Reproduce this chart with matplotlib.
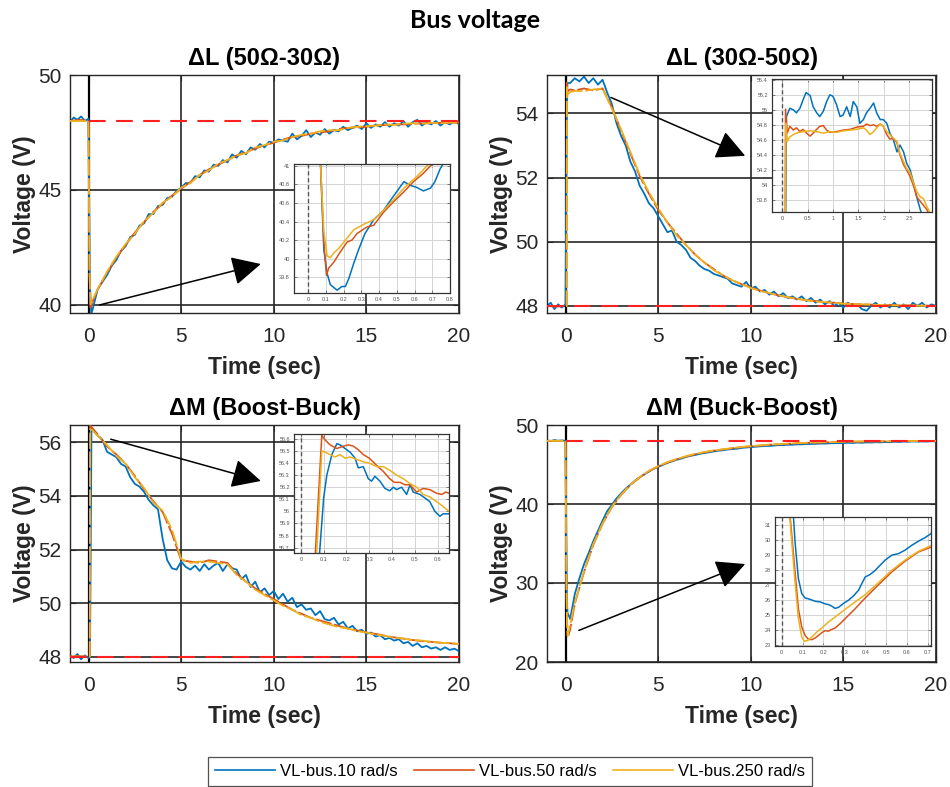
import numpy as np
import matplotlib
matplotlib.use("Agg")
import matplotlib.pyplot as plt
from matplotlib.lines import Line2D
from matplotlib.ticker import FuncFormatter

plt.rcParams['font.family'] = ['Liberation Sans', 'DejaVu Sans']

BLUE = '#0072BD'
ORANGE = '#D95319'
YELLOW = '#EDB120'
COLORS = [BLUE, ORANGE, YELLOW]

TITLES = ['ΔL (50Ω-30Ω)', 'ΔL (30Ω-50Ω)', 'ΔM (Boost-Buck)', 'ΔM (Buck-Boost)']
LABELS = ['VL-bus.10 rad/s', 'VL-bus.50 rad/s', 'VL-bus.250 rad/s']
V_REF = 48.0
DT_BLUE = 0.25     # sample step of the typed blue values after the transient
DT_SMOOTH = 0.5    # sample step of the typed orange / yellow values

# ---------------- panel 1 : dL 50-30 ----------------
p1_blue_t0 = [-1.0, -0.8, -0.6, -0.4, -0.2, 0.0, 0.07, 0.15]
p1_blue_v0 = [47.95, 48.15, 48.05, 48.2, 48.0, 48.1, 41.0, 39.6]
p1_blue = [39.9, 40.7, 41.0, 41.3, 41.7, 41.95, 42.35, 42.55, 42.95, 43.05,
           43.45, 43.55, 43.95, 43.95, 44.3, 44.35, 44.65, 44.7, 44.95, 45.1,
           45.3, 45.3, 45.6, 45.55, 45.85, 45.8, 46.1, 46.05, 46.3, 46.2,
           46.55, 46.4, 46.7, 46.55, 46.85, 46.75, 47.0, 46.85, 47.1, 47.05,
           47.2, 47.15, 47.1, 47.45, 47.2, 47.35, 47.6, 47.3, 47.5, 47.4,
           47.65, 47.45, 47.6, 47.55, 47.75, 47.6, 47.7, 47.8, 47.65, 47.9,
           47.7, 47.85, 47.75, 47.95, 47.75, 47.9, 47.8, 48.0, 47.75, 47.95,
           48.05, 47.8, 47.95, 47.85, 48.0, 47.8, 47.95, 47.85, 48.0, 47.85]
p1_orange_t0 = [-1.0, -0.5, 0.0, 0.05, 0.1, 0.2, 0.3]
p1_orange_v0 = [48.0, 48.05, 48.0, 41.5, 39.82, 40.1, 40.3]
p1_orange = [40.67, 41.4, 42.05, 42.6, 43.15, 43.6, 44.05, 44.4, 44.75, 45.05,
             45.35, 45.65, 45.9, 46.1, 46.3, 46.5, 46.65, 46.8, 46.95, 47.05,
             47.2, 47.3, 47.35, 47.45, 47.5, 47.55, 47.65, 47.7, 47.72, 47.75,
             47.8, 47.82, 47.85, 47.85, 47.88, 47.9, 47.9, 47.92, 47.92, 47.93]
p1_yellow_t0 = [-1.0, -0.5, 0.0, 0.05, 0.11, 0.2, 0.3]
p1_yellow_v0 = [48.0, 48.0, 48.0, 41.5, 40.02, 40.17, 40.36]
p1_yellow = [40.7, 41.45, 42.1, 42.65, 43.1, 43.65, 44.0, 44.45, 44.7, 45.1,
             45.3, 45.65, 45.85, 46.15, 46.3, 46.5, 46.6, 46.85, 46.95, 47.1,
             47.15, 47.3, 47.4, 47.45, 47.55, 47.6, 47.6, 47.7, 47.75, 47.78,
             47.8, 47.85, 47.83, 47.88, 47.9, 47.88, 47.92, 47.9, 47.93, 47.92]

# inset 1
i1_blue_t = [0.055, 0.07, 0.088, 0.107, 0.125, 0.163, 0.19, 0.21, 0.23, 0.257, 0.285, 0.32,
             0.37, 0.425, 0.48, 0.54, 0.575, 0.61, 0.65, 0.69, 0.715, 0.745, 0.77]
i1_blue_v = [41.5, 41.0, 40.1, 39.84, 39.72, 39.66, 39.7, 39.7, 39.79, 39.95, 40.1, 40.27,
             40.42, 40.52, 40.67, 40.83, 40.79, 40.77, 40.73, 40.76, 40.83, 40.97, 41.05]
i1_orange_t = [0.05, 0.07, 0.088, 0.103, 0.116, 0.144, 0.18, 0.22, 0.247, 0.275, 0.33,
               0.37, 0.425, 0.48, 0.54, 0.594, 0.65, 0.69, 0.72]
i1_orange_v = [41.5, 41.0, 40.2, 39.82, 39.9, 39.96, 40.07, 40.18, 40.2, 40.27, 40.34,
               40.36, 40.5, 40.61, 40.72, 40.83, 40.92, 41.0, 41.05]
i1_yellow_t = [0.05, 0.07, 0.088, 0.107, 0.125, 0.144, 0.172, 0.21, 0.257, 0.313, 0.37,
               0.425, 0.48, 0.54, 0.61, 0.67, 0.7]
i1_yellow_v = [41.5, 41.0, 40.3, 40.03, 40.01, 40.06, 40.11, 40.2, 40.31, 40.37, 40.42,
               40.52, 40.63, 40.76, 40.88, 41.0, 41.05]

# ---------------- panel 2 : dL 30-50 ----------------
p2_blue_t0 = [-1.0, -0.8, -0.6, -0.4, -0.2, 0.0, 0.07, 0.1]
p2_blue_v0 = [48.0, 48.1, 47.9, 48.05, 47.95, 48.05, 53.6, 54.95]
p2_blue = [54.95, 55.1, 55.0, 55.15, 54.95, 55.1, 54.9, 55.05, 54.65, 54.3,
           53.7, 53.3, 53.0, 52.5, 52.2, 51.75, 51.5, 51.2, 51.05, 50.8,
           50.55, 50.3, 50.35, 50.0, 49.9, 49.75, 49.5, 49.4, 49.25, 49.15,
           49.1, 49.0, 48.95, 48.9, 48.85, 48.7, 48.65, 48.6, 48.75, 48.55,
           48.6, 48.45, 48.5, 48.35, 48.45, 48.3, 48.4, 48.25, 48.3, 48.2,
           48.3, 48.15, 48.25, 48.1, 48.2, 48.05, 48.15, 48.0, 48.1, 47.95,
           48.1, 48.0, 48.05, 47.9, 47.85, 48.0, 48.1, 47.95, 48.05, 47.95,
           48.1, 47.95, 48.05, 47.9, 48.1, 48.0, 48.1, 47.95, 48.05, 48.0]
p2_orange_t0 = [-1.0, -0.5, 0.0, 0.06, 0.066, 0.1, 0.25]
p2_orange_v0 = [48.0, 47.98, 48.0, 48.0, 55.01, 54.69, 54.75]
p2_orange = [54.72, 54.78, 54.72, 54.78, 54.2, 53.45, 52.75, 52.05, 51.5, 51.0,
             50.6, 50.25, 49.9, 49.6, 49.35, 49.15, 48.95, 48.8, 48.68, 48.58,
             48.48, 48.4, 48.33, 48.27, 48.22, 48.18, 48.15, 48.12, 48.1, 48.08,
             48.06, 48.05, 48.04, 48.03, 48.03, 48.02, 48.02, 48.01, 48.01, 48.0]
p2_yellow_t0 = [-1.0, -0.5, 0.0, 0.065, 0.075, 0.1, 0.25]
p2_yellow_v0 = [48.0, 48.0, 48.0, 48.0, 54.82, 54.58, 54.67]
p2_yellow = [54.7, 54.7, 54.75, 54.78, 54.15, 53.5, 52.8, 52.1, 51.55, 51.05,
             50.6, 50.2, 49.9, 49.6, 49.35, 49.12, 48.95, 48.8, 48.68, 48.56,
             48.47, 48.4, 48.33, 48.28, 48.22, 48.18, 48.14, 48.12, 48.1, 48.07,
             48.06, 48.05, 48.04, 48.03, 48.02, 48.02, 48.01, 48.01, 48.0, 48.0]

# inset 2
i2_blue_t = [0.07, 0.085, 0.15, 0.22, 0.28, 0.35, 0.41, 0.47, 0.55, 0.61, 0.68, 0.74, 0.81,
             0.875, 0.94, 1.0, 1.07, 1.14, 1.2, 1.27, 1.34, 1.4, 1.47, 1.53, 1.6, 1.66,
             1.73, 1.8, 1.86, 1.93, 1.99, 2.06, 2.12, 2.19, 2.26, 2.32, 2.39, 2.45, 2.52,
             2.59, 2.65, 2.72, 2.78]
i2_blue_v = [53.6, 54.91, 55.02, 55.0, 54.96, 55.02, 55.13, 55.23, 55.19, 55.04, 54.96, 54.91,
             54.98, 55.11, 55.2, 55.18, 55.07, 54.91, 54.93, 55.04, 54.91, 55.11, 55.04,
             54.82, 54.87, 54.96, 55.02, 55.09, 54.96, 54.87, 54.87, 54.82, 54.69, 54.6,
             54.44, 54.53, 54.44, 54.29, 54.2, 54.02, 53.84, 53.67, 53.55]
i2_orange_t = [0.06, 0.066, 0.1, 0.15, 0.22, 0.28, 0.35, 0.41, 0.48, 0.55, 0.61, 0.68, 0.74,
               0.81, 0.875, 0.94, 1.07, 1.2, 1.34, 1.47, 1.6, 1.66, 1.73, 1.8, 1.86, 1.93,
               1.99, 2.06, 2.12, 2.19, 2.26, 2.32, 2.39, 2.45, 2.52, 2.59, 2.65, 2.72, 2.78,
               2.85, 2.9]
i2_orange_v = [53.6, 55.01, 54.69, 54.78, 54.73, 54.76, 54.71, 54.74, 54.69, 54.65, 54.69,
               54.74, 54.78, 54.79, 54.73, 54.7, 54.71, 54.73, 54.74, 54.77, 54.78, 54.81,
               54.79, 54.8, 54.78, 54.81, 54.78, 54.67, 54.61, 54.62, 54.56, 54.4, 54.27,
               54.2, 54.11, 53.98, 53.84, 53.78, 53.73, 53.67, 53.6]
i2_yellow_t = [0.065, 0.075, 0.1, 0.15, 0.22, 0.28, 0.41, 0.55, 0.68, 0.81, 0.94, 1.07, 1.2,
               1.34, 1.47, 1.6, 1.66, 1.73, 1.8, 1.86, 1.93, 1.99, 2.06, 2.12, 2.19, 2.26,
               2.32, 2.39, 2.45, 2.52, 2.59, 2.65, 2.72, 2.78, 2.85, 2.92]
i2_yellow_v = [53.6, 54.82, 54.58, 54.64, 54.67, 54.69, 54.71, 54.72, 54.71, 54.69, 54.71,
               54.7, 54.72, 54.73, 54.74, 54.76, 54.73, 54.67, 54.71, 54.76, 54.81, 54.78,
               54.71, 54.67, 54.62, 54.58, 54.42, 54.31, 54.22, 54.16, 54.02, 53.91, 53.84,
               53.82, 53.71, 53.62]

# ---------------- panel 3 : dM boost-buck ----------------
p3_blue_t0 = [-1.0, -0.8, -0.6, -0.4, -0.2, 0.0, 0.08, 0.16]
p3_blue_v0 = [48.05, 47.95, 48.1, 47.9, 48.05, 47.95, 48.0, 56.56]
p3_blue = [56.45, 56.25, 56.1, 55.65, 55.55, 55.45, 55.2, 55.1, 54.7, 54.45,
           54.35, 54.15, 53.85, 53.65, 53.5, 52.4, 51.6, 51.3, 51.25, 51.55,
           51.35, 51.25, 51.4, 51.2, 51.45, 51.25, 51.4, 51.5, 51.2, 51.45,
           51.3, 51.25, 50.9, 51.05, 50.6, 50.8, 50.4, 50.55, 50.3, 50.45,
           50.15, 50.35, 50.05, 50.2, 49.85, 49.95, 49.75, 49.8, 49.55, 49.7,
           49.4, 49.35, 49.45, 49.2, 49.3, 49.05, 49.15, 48.95, 49.0, 48.85,
           48.9, 48.75, 48.8, 48.65, 48.7, 48.6, 48.65, 48.5, 48.55, 48.4,
           48.5, 48.35, 48.4, 48.3, 48.35, 48.25, 48.35, 48.25, 48.3, 48.2]
p3_orange_t0 = [-1.0, -0.5, 0.0, 0.062, 0.092, 0.2]
p3_orange_v0 = [48.0, 48.02, 48.0, 48.0, 56.63, 56.54]
p3_orange = [56.3, 55.85, 55.55, 55.2, 54.75, 54.25, 53.8, 53.4, 52.6, 51.6,
             51.55, 51.5, 51.6, 51.55, 51.5, 51.1, 50.8, 50.55, 50.35, 50.15,
             49.95, 49.75, 49.6, 49.45, 49.35, 49.25, 49.15, 49.05, 48.98, 48.9,
             48.85, 48.78, 48.72, 48.67, 48.62, 48.58, 48.55, 48.52, 48.5, 48.47]
p3_yellow_t0 = [-1.0, -0.5, 0.0, 0.068, 0.092, 0.2]
p3_yellow_v0 = [48.0, 48.0, 48.0, 48.0, 56.5, 56.46]
p3_yellow = [56.25, 55.9, 55.5, 55.2, 54.7, 54.3, 53.75, 53.45, 52.75, 51.65,
             51.5, 51.55, 51.55, 51.5, 51.45, 51.05, 50.8, 50.5, 50.3, 50.1,
             49.9, 49.75, 49.55, 49.45, 49.3, 49.2, 49.1, 49.05, 48.95, 48.9,
             48.82, 48.78, 48.7, 48.68, 48.62, 48.6, 48.55, 48.52, 48.5, 48.48]

# inset 3
i3_blue_t = [0.08, 0.1, 0.114, 0.136, 0.158, 0.172, 0.194, 0.216, 0.238, 0.252, 0.274, 0.296,
             0.31, 0.325, 0.347, 0.369, 0.39, 0.406, 0.42, 0.442, 0.464, 0.479, 0.493, 0.523,
             0.545, 0.566, 0.588, 0.61, 0.624, 0.65]
i3_blue_v = [55.6, 56.11, 56.3, 56.47, 56.56, 56.55, 56.52, 56.49, 56.44, 56.36, 56.37, 56.27,
             56.25, 56.29, 56.25, 56.19, 56.17, 56.2, 56.18, 56.2, 56.14, 56.22, 56.16, 56.14,
             56.11, 56.08, 56.0, 55.96, 55.98, 55.98]
i3_orange_t = [0.062, 0.092, 0.107, 0.128, 0.158, 0.187, 0.209, 0.23, 0.252, 0.274, 0.3,
               0.333, 0.362, 0.39, 0.41, 0.435, 0.457, 0.479, 0.508, 0.537, 0.566, 0.596,
               0.618, 0.636, 0.65]
i3_orange_v = [55.6, 56.63, 56.59, 56.55, 56.52, 56.54, 56.55, 56.54, 56.51, 56.47, 56.44,
               56.38, 56.33, 56.27, 56.24, 56.24, 56.22, 56.22, 56.16, 56.19, 56.18, 56.15,
               56.14, 56.16, 56.15]
i3_yellow_t = [0.068, 0.092, 0.107, 0.128, 0.15, 0.172, 0.194, 0.216, 0.245, 0.274, 0.3,
               0.333, 0.362, 0.39, 0.42, 0.45, 0.479, 0.508, 0.537, 0.566, 0.596, 0.618, 0.65]
i3_yellow_v = [55.6, 56.5, 56.49, 56.47, 56.45, 56.47, 56.44, 56.45, 56.43, 56.41, 56.4,
               56.37, 56.37, 56.34, 56.3, 56.27, 56.23, 56.2, 56.14, 56.12, 56.08, 56.05, 56.0]

# ---------------- panel 4 : dM buck-boost ----------------
p4_blue_t0 = [-1.0, -0.8, -0.6, -0.4, -0.2, 0.0, 0.056, 0.08, 0.11, 0.2]
p4_blue_v0 = [48.05, 47.95, 48.1, 48.0, 48.05, 48.0, 31.6, 27.4, 26.15, 25.75]
p4_blue = [25.45, 28.6, 30.6, 32.4, 33.8, 35.3, 36.6, 37.9, 39.1, 39.9,
           40.7, 41.35, 41.95, 42.45, 42.95, 43.4, 43.75, 44.1, 44.45, 44.7,
           44.95, 45.2, 45.4, 45.6, 45.75, 45.95, 46.1, 46.2, 46.35, 46.45,
           46.55, 46.65, 46.75, 46.8, 46.9, 46.95, 47.0, 47.1, 47.15, 47.2,
           47.25, 47.3, 47.35, 47.35, 47.4, 47.45, 47.45, 47.5, 47.5, 47.55,
           47.55, 47.6, 47.6, 47.62, 47.65, 47.65, 47.68, 47.7, 47.7, 47.72,
           47.75, 47.72, 47.78, 47.75, 47.8, 47.78, 47.82, 47.8, 47.85, 47.82,
           47.88, 47.85, 47.9, 47.88, 47.92, 47.9, 47.92, 47.9, 47.95, 47.92]
p4_orange_t0 = [-1.0, -0.5, 0.0, 0.04, 0.08, 0.12, 0.16, 0.25]
p4_orange_v0 = [48.0, 48.0, 48.0, 31.6, 25.4, 23.5, 23.4, 24.1]
p4_orange = [27.4, 31.4, 34.85, 37.5, 39.6, 41.15, 42.4, 43.35, 44.15, 44.75,
             45.25, 45.65, 46.0, 46.3, 46.55, 46.75, 46.9, 47.05, 47.2, 47.3,
             47.4, 47.5, 47.55, 47.62, 47.68, 47.73, 47.77, 47.8, 47.83, 47.86,
             47.88, 47.9, 47.92, 47.93, 47.94, 47.95, 47.96, 47.97, 47.97, 47.98]
p4_yellow_t0 = [-1.0, -0.5, 0.0, 0.04, 0.08, 0.11, 0.14, 0.25]
p4_yellow_v0 = [48.0, 48.0, 48.0, 31.6, 24.8, 23.27, 23.5, 24.7]
p4_yellow = [27.5, 31.5, 34.95, 37.55, 39.65, 41.2, 42.45, 43.4, 44.2, 44.8,
             45.3, 45.7, 46.05, 46.35, 46.58, 46.78, 46.93, 47.08, 47.22, 47.32,
             47.42, 47.52, 47.58, 47.64, 47.7, 47.75, 47.79, 47.82, 47.85, 47.88,
             47.9, 47.92, 47.93, 47.94, 47.95, 47.96, 47.97, 47.98, 47.98, 47.99]

# inset 4
i4_blue_t = [0.056, 0.064, 0.08, 0.096, 0.112, 0.136, 0.16, 0.184, 0.208, 0.224, 0.24, 0.256,
             0.272, 0.296, 0.32, 0.344, 0.368, 0.384, 0.4, 0.424, 0.448, 0.471, 0.495, 0.527,
             0.56, 0.59, 0.623, 0.655, 0.687, 0.715]
i4_blue_v = [31.6, 29.85, 27.42, 26.43, 26.14, 26.05, 25.92, 25.88, 25.75, 25.7, 25.6, 25.45,
             25.52, 25.78, 25.99, 26.28, 26.65, 27.1, 27.53, 27.7, 27.97, 28.3, 28.64, 28.97,
             29.08, 29.3, 29.63, 29.9, 30.14, 30.4]
i4_orange_t = [0.04, 0.064, 0.08, 0.096, 0.112, 0.128, 0.144, 0.16, 0.176, 0.192, 0.208,
               0.224, 0.24, 0.256, 0.28, 0.304, 0.352, 0.4, 0.464, 0.527, 0.59, 0.655, 0.715]
i4_orange_v = [31.6, 27.86, 25.43, 24.22, 23.66, 23.4, 23.38, 23.49, 23.66, 23.84, 23.98,
               23.94, 24.06, 24.15, 24.44, 24.77, 25.43, 26.14, 27.02, 27.86, 28.57, 29.19, 29.5]
i4_yellow_t = [0.038, 0.064, 0.08, 0.096, 0.109, 0.125, 0.144, 0.168, 0.192, 0.224, 0.256,
               0.304, 0.352, 0.4, 0.464, 0.527, 0.59, 0.655, 0.715]
i4_yellow_v = [31.6, 27.2, 24.77, 23.55, 23.27, 23.33, 23.55, 23.88, 24.15, 24.55, 24.88,
               25.39, 25.88, 26.36, 27.16, 27.97, 28.64, 29.23, 29.6]


def series(t_head, v_head, vals, dt):
    t = list(t_head) + [dt * (i + 1) for i in range(len(vals))]
    return t, list(v_head) + list(vals)


def fmt_g(v, pos):
    return f"{round(v, 3):g}"


W, H = 950, 787
fig = plt.figure(figsize=(W / 100, H / 100), dpi=100)


def px_rect(left, top, right, bottom):
    return [left / W, 1 - bottom / H, (right - left) / W, (bottom - top) / H]


def main_panel(rect, title, ylim, yticks, curves, ref_x0, arrow):
    ax = fig.add_axes(rect)
    ax.set_xlim(-1, 20)
    ax.set_ylim(*ylim)
    ax.set_xticks([0, 5, 10, 15, 20])
    ax.set_yticks(yticks)
    ax.grid(True, color='#262626', lw=1.2)
    ax.set_axisbelow(True)
    ax.axvline(0, color='k', lw=1.6, zorder=1.8)
    for k, ((t, v), c) in enumerate(zip(curves, COLORS)):
        if k == 0:
            ax.plot(t, v, color=c, lw=1.3, zorder=2)
        else:
            ax.plot(t, v, color=c, lw=1.3, ls=(0, (9, 1.5)), zorder=2 + k)
    ax.plot([ref_x0, 20], [V_REF, V_REF], color='#FF2020', lw=1.5, ls=(0, (8, 5)), zorder=5)
    (x0, y0), (x1, y1) = arrow
    ax.annotate('', xy=(x1, y1), xytext=(x0, y0),
                arrowprops=dict(arrowstyle='-|>,head_length=0.9,head_width=0.45',
                                color='k', lw=1.1, mutation_scale=20,
                                shrinkA=0, shrinkB=0), zorder=6)
    ax.set_title(title, fontsize=17, fontweight='bold', pad=7)
    ax.set_xlabel('Time (sec)', fontsize=16.5, fontweight='bold', color='#262626', labelpad=7)
    ax.set_ylabel('Voltage (V)', fontsize=16.5, fontweight='bold', color='#262626', labelpad=2)
    ax.tick_params(direction='in', length=4, labelsize=15, colors='#262626',
                   top=True, right=True, pad=6)
    ax.tick_params(axis='x', pad=10)
    for s in ax.spines.values():
        s.set_color('#262626')
        s.set_linewidth(1.0)
    return ax


def inset(rect, xlim, ylim, xticks, yticks, curves):
    ax = fig.add_axes(rect)
    ax.set_facecolor('white')
    ax.set_xlim(*xlim)
    ax.set_ylim(*ylim)
    ax.set_xticks(xticks)
    ax.set_yticks(yticks)
    ax.xaxis.set_major_formatter(FuncFormatter(fmt_g))
    ax.yaxis.set_major_formatter(FuncFormatter(fmt_g))
    ax.grid(True, color='#d4d4d4', lw=0.7)
    ax.set_axisbelow(True)
    ax.axvline(0, color='#555555', lw=1.0, ls=(0, (3, 2)), zorder=1.5)
    for (t, v), c in zip(curves, COLORS):
        ax.plot(t, v, color=c, lw=1.1)
    ax.tick_params(direction='in', length=2, width=0.5, labelsize=4, colors='#555555',
                   top=True, right=True, pad=3)
    for s in ax.spines.values():
        s.set_color('#333333')
        s.set_linewidth(0.9)
    return ax


# panel 1
a1 = main_panel(px_rect(70, 75, 459, 313), TITLES[0], (39.65, 50), [40, 45, 50],
                [series(p1_blue_t0, p1_blue_v0, p1_blue, DT_BLUE),
                 series(p1_orange_t0, p1_orange_v0, p1_orange, DT_SMOOTH),
                 series(p1_yellow_t0, p1_yellow_v0, p1_yellow, DT_SMOOTH)],
                0.0, ((0.6, 40.0), (9.3, 41.78)))
inset(px_rect(294, 164, 450, 293), (-0.08, 0.8), (39.63, 41.02),
      np.arange(0, 0.81, 0.1), np.arange(39.8, 41.01, 0.2),
      [(i1_blue_t, i1_blue_v), (i1_orange_t, i1_orange_v), (i1_yellow_t, i1_yellow_v)])

# panel 2
a2 = main_panel(px_rect(547, 75, 936, 313), TITLES[1], (47.78, 55.2), [48, 50, 52, 54],
                [series(p2_blue_t0, p2_blue_v0, p2_blue, DT_BLUE),
                 series(p2_orange_t0, p2_orange_v0, p2_orange, DT_SMOOTH),
                 series(p2_yellow_t0, p2_yellow_v0, p2_yellow, DT_SMOOTH)],
                -1.0, ((2.45, 54.5), (9.7, 52.68)))
inset(px_rect(772, 79, 932, 212), (-0.2, 2.95), (53.64, 55.41),
      np.arange(0, 2.51, 0.5), np.arange(53.8, 55.41, 0.2),
      [(i2_blue_t, i2_blue_v), (i2_orange_t, i2_orange_v), (i2_yellow_t, i2_yellow_v)])

# panel 3
a3 = main_panel(px_rect(70, 425, 459, 662), TITLES[2], (47.8, 56.65), [48, 50, 52, 54, 56],
                [series(p3_blue_t0, p3_blue_v0, p3_blue, DT_BLUE),
                 series(p3_orange_t0, p3_orange_v0, p3_orange, DT_SMOOTH),
                 series(p3_yellow_t0, p3_yellow_v0, p3_yellow, DT_SMOOTH)],
                -1.0, ((1.2, 56.12), (9.3, 54.56)))
inset(px_rect(294, 434, 449, 553), (-0.03, 0.65), (55.656, 56.64),
      np.arange(0, 0.61, 0.1), np.arange(55.7, 56.61, 0.1),
      [(i3_blue_t, i3_blue_v), (i3_orange_t, i3_orange_v), (i3_yellow_t, i3_yellow_v)])

# panel 4
a4 = main_panel(px_rect(547, 425, 936, 662), TITLES[3], (20, 50), [20, 30, 40, 50],
                [series(p4_blue_t0, p4_blue_v0, p4_blue, DT_BLUE),
                 series(p4_orange_t0, p4_orange_v0, p4_orange, DT_SMOOTH),
                 series(p4_yellow_t0, p4_yellow_v0, p4_yellow, DT_SMOOTH)],
                0.0, ((0.72, 24.0), (9.7, 32.4)))
inset(px_rect(775, 517, 931, 646), (-0.032, 0.715), (22.96, 31.5),
      np.arange(0, 0.71, 0.1), np.arange(23, 31.1, 1),
      [(i4_blue_t, i4_blue_v), (i4_orange_t, i4_orange_v), (i4_yellow_t, i4_yellow_v)])

fig.text(0.5, 1 - 20 / H, 'Bus voltage', ha='center', va='center',
         fontsize=18, fontweight='bold', family=['Lato', 'DejaVu Sans'])

handles = [Line2D([], [], color=c, lw=1.2) for c in COLORS]
leg = fig.legend(handles, LABELS, loc='center', bbox_to_anchor=(510 / W, 1 - 771.5 / H),
                 ncol=3, fontsize=12, handlelength=3.6, handletextpad=0.3,
                 columnspacing=1.0, frameon=True, fancybox=False, borderpad=0.4)
leg.get_frame().set_edgecolor('#262626')
leg.get_frame().set_linewidth(0.9)

fig.savefig('out.png', dpi=100)
